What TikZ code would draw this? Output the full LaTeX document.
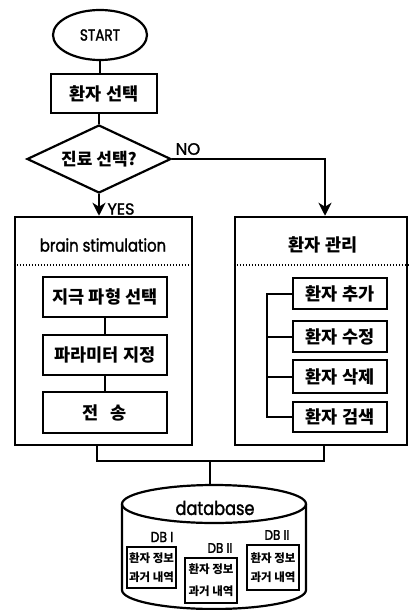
\documentclass[tikz,border=0pt]{standalone}
\usepackage{fontspec}
\setmainfont{Poppins}
\newfontfamily\lat[FakeStretch=0.85,FakeBold=1.6]{Poppins}
\newfontfamily\latw[FakeBold=1.6]{Poppins}
\newfontfamily\kr{Noto Sans CJK KR}
\usetikzlibrary{shapes.geometric,arrows.meta}
\begin{document}
\begin{tikzpicture}[x=1pt,y=-1pt,
  ln/.style={line width=2pt},
  arr/.style={line width=2pt,-{Stealth[length=13pt,width=13pt,inset=4pt]}},
  outer/.style={draw,line width=2.5pt,rectangle,inner sep=0pt},
  box/.style={draw,line width=2.5pt,rectangle,inner sep=0pt,font=\kr\bfseries\fontsize{17.5}{20}\selectfont},
  rbx/.style={box,minimum width=94pt,minimum height=31pt},
  lbx/.style={box,minimum width=124pt,minimum height=40pt},
  dbbox/.style={draw,line width=2pt,rectangle,inner sep=0pt,align=center},
  dbkr/.style={font=\kr\bfseries\fontsize{11.5}{#1}\selectfont},
  latin/.style={font=\lat\fontsize{16}{18}\selectfont},
  dots/.style={line width=1.5pt,dash pattern=on 1.3pt off 1.7pt},
  lbl/.style={inner sep=0pt}]
\useasboundingbox (0,0) rectangle (409,610);
\fill[white] (0,0) rectangle (409,610);

% top of chart
\node[ellipse,draw,line width=2.2pt,minimum width=94pt,minimum height=50pt,inner sep=0pt,latin] (start) at (100,35) {START};
\node[box,minimum width=106pt,minimum height=39pt] (sel) at (104,93.5) {환자 선택};
\node[diamond,draw,line width=2.2pt,aspect=2.2,minimum width=144pt,minimum height=68pt,inner sep=0pt,font=\kr\bfseries\fontsize{17}{20}\selectfont] (dec) at (99,159) {진료 선택?};
\draw[ln] (start.south) -- (start.south |- sel.north);
\draw[ln] (dec.north |- sel.south) -- (dec.north);

% two big boxes
\node[outer,minimum width=177pt,minimum height=228pt] (lbox) at (103.5,331) {};
\node[outer,minimum width=172pt,minimum height=228pt] (rbox) at (321,331) {};
\coordinate (noc) at (325,159);
\draw[arr] (dec.east) -- (noc) -- (noc |- rbox.north);
\draw[arr] (dec.south) -- (dec.south |- lbox.north);
\node[lbl,font=\latw\fontsize{16.5}{18}\selectfont] (no) at (188,149) {NO};
\node[lbl,font=\latw\fontsize{16}{18}\selectfont] (yes) at (121,209) {YES};

\node[lbl,font=\lat\fontsize{17.5}{20}\selectfont] (ltitle) at (103,245) {brain stimulation};
\node[lbl,font=\kr\bfseries\fontsize{17.5}{20}\selectfont] (rtitle) at (323,245) {환자 관리};
\coordinate (dl) at (0,265);
\draw[dots] (lbox.west |- dl) -- (lbox.east |- dl);
\draw[dots] (rbox.west |- dl) -- (rbox.east |- dl);

% left inner boxes
\node[lbx] (la) at (105,297) {지극 파형 선택};
\node[lbx] (lb) at (105,355) {파라미터 지정};
\node[lbx,minimum height=41pt] (lc) at (105,412.5) {전\hspace{12pt}송};
\draw[ln] (la) -- (lb);
\draw[ln] (lb) -- (lc);

% right inner boxes
\node[rbx] (ra) at (340,293.5) {환자 추가};
\node[rbx] (rb) at (340,336.5) {환자 수정};
\node[rbx,minimum height=33pt] (rc) at (340,376.5) {환자 삭제};
\node[rbx,minimum height=30pt] (rd) at (340,417) {환자 검색};
\coordinate (bx) at (267,0);
\draw[ln] (ra.west) -- (ra.west -| bx) -- (rd.west -| bx) -- (rd.west);
\draw[ln] (rb.west -| bx) -- (rb.west);
\draw[ln] (rc.west -| bx) -- (rc.west);

% join to database
\coordinate (jl) at (97,461);
\coordinate (jr) at (324,461);
\coordinate (jc) at (210,461);
\coordinate (dbtop) at (210,485);
\draw[ln] (lbox.south -| jl) -- (jl) -- (jr) -- (rbox.south -| jr);
\draw[ln] (jc) -- (dbtop);

% cylinder
\draw[line width=2.2pt] (214,504) ellipse [x radius=92, y radius=19];
\draw[line width=2.2pt] (122,504) -- (122,590) arc[start angle=180,end angle=0,x radius=92,y radius=19] -- (306,504);
\node[lbl,font=\lat\fontsize{19}{21}\selectfont] (dbname) at (215,508) {database};

\node[lbl,font=\lat\fontsize{14.5}{16}\selectfont] (l1) at (162,537) {DB I};
\node[lbl,font=\lat\fontsize{14}{16}\selectfont] (l2) at (220,548) {DB II};
\node[lbl,font=\lat\fontsize{14}{16}\selectfont] (l3) at (277,535) {DB II};
\node[dbbox,minimum width=49pt,minimum height=41pt,dbkr=19] (d1) at (151.5,567.5) {환자 정보\\과거 내역};
\node[dbbox,minimum width=52pt,minimum height=45pt,dbkr=22] (d2) at (211,580.5) {환자 정보\\과거 내역};
\node[dbbox,minimum width=52pt,minimum height=45pt,dbkr=19] (d3) at (273,567.5) {환자 정보\\과거 내역};
\end{tikzpicture}
\end{document}
